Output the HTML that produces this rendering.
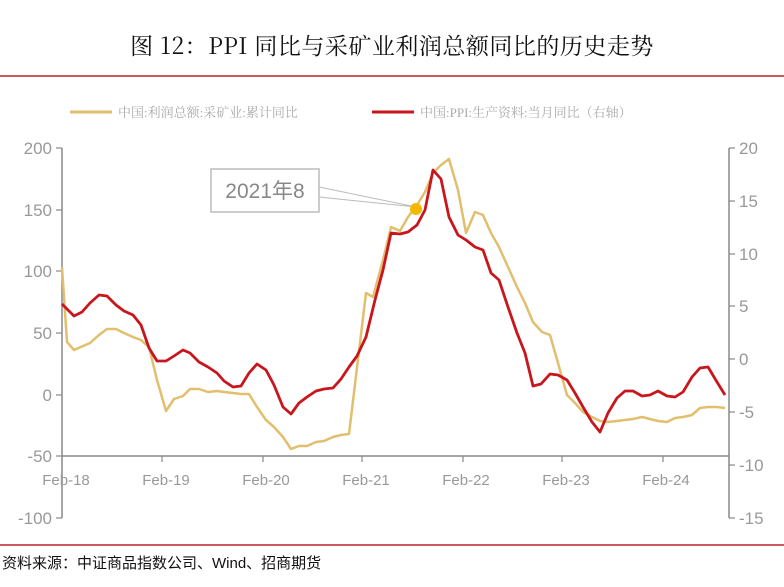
<!DOCTYPE html>
<html><head><meta charset="utf-8"><style>
body{margin:0;background:#fff;width:784px;height:582px;overflow:hidden;font-family:"Liberation Sans","Noto Sans CJK SC",sans-serif}
</style></head><body>
<svg width="784" height="582" xmlns="http://www.w3.org/2000/svg" font-family="Liberation Sans, Noto Sans CJK SC, sans-serif">
<text x="392" y="54" text-anchor="middle" font-size="23" fill="#111" letter-spacing="0.5" font-family="Noto Serif CJK SC, Liberation Serif, serif">图 12：PPI 同比与采矿业利润总额同比的历史走势</text>
<line x1="0" y1="76" x2="784" y2="76" stroke="#b8262a" stroke-width="1.5"/>
<line x1="0" y1="545" x2="784" y2="545" stroke="#b8262a" stroke-width="1.5"/>
<text x="2" y="568" font-size="15" fill="#111">资料来源：中证商品指数公司、Wind、招商期货</text>
<line x1="70" y1="112" x2="112" y2="112" stroke="#e2bf6e" stroke-width="3"/>
<text x="118" y="117" font-size="13" fill="#aaa" font-family="Liberation Serif, Noto Serif CJK SC, serif">中国:利润总额:采矿业:累计同比</text>
<line x1="372" y1="112" x2="414" y2="112" stroke="#c8161d" stroke-width="3"/>
<text x="420" y="117" font-size="13" fill="#aaa" font-family="Liberation Serif, Noto Serif CJK SC, serif">中国:PPI:生产资料:当月同比（右轴）</text>
<g stroke="#888" stroke-width="1.5" fill="none">
<line x1="62" y1="148" x2="62" y2="518"/>
<line x1="729" y1="148" x2="729" y2="518"/>
<line x1="62" y1="456" x2="729" y2="456"/>
</g>
<g stroke="#888" stroke-width="1.2">
<line x1="56" y1="148" x2="62" y2="148"/><line x1="56" y1="210" x2="62" y2="210"/><line x1="56" y1="271" x2="62" y2="271"/><line x1="56" y1="333" x2="62" y2="333"/><line x1="56" y1="395" x2="62" y2="395"/><line x1="56" y1="456" x2="62" y2="456"/><line x1="56" y1="518" x2="62" y2="518"/>
<line x1="729" y1="148" x2="735" y2="148"/><line x1="729" y1="201" x2="735" y2="201"/><line x1="729" y1="254" x2="735" y2="254"/><line x1="729" y1="306" x2="735" y2="306"/><line x1="729" y1="359" x2="735" y2="359"/><line x1="729" y1="412" x2="735" y2="412"/><line x1="729" y1="465" x2="735" y2="465"/><line x1="729" y1="518" x2="735" y2="518"/>
<line x1="162" y1="456" x2="162" y2="462"/><line x1="263" y1="456" x2="263" y2="462"/><line x1="362" y1="456" x2="362" y2="462"/><line x1="463" y1="456" x2="463" y2="462"/><line x1="562" y1="456" x2="562" y2="462"/><line x1="663" y1="456" x2="663" y2="462"/>
</g>
<g font-size="17" fill="#999" text-anchor="end">
<text x="52" y="154">200</text><text x="52" y="216">150</text><text x="52" y="277">100</text><text x="52" y="339">50</text><text x="52" y="401">0</text><text x="52" y="462">-50</text><text x="52" y="524">-100</text>
</g>
<g font-size="17" fill="#999">
<text x="739" y="154">20</text><text x="739" y="207">15</text><text x="739" y="260">10</text><text x="739" y="312">5</text><text x="739" y="365">0</text><text x="739" y="418">-5</text><text x="739" y="471">-10</text><text x="739" y="524">-15</text>
</g>
<g font-size="15" fill="#999" text-anchor="middle">
<text x="66" y="485">Feb-18</text><text x="166" y="485">Feb-19</text><text x="266" y="485">Feb-20</text><text x="366" y="485">Feb-21</text><text x="466" y="485">Feb-22</text><text x="566" y="485">Feb-23</text><text x="666" y="485">Feb-24</text>
</g>
<polyline fill="none" stroke="#e2bf6e" stroke-width="2.5" stroke-linejoin="round" points="62,267 67,342 74,350 90,343 99,335 107,329 116,329 124,333 133,337 141,340 149,347 157,380 166,411 174,399 183,396 190,389 199,389 208,392 217,391 224,392 233,393 241,394 249,394 257,407 266,420 274,427 283,437 291,449 299,446 307,446 316,442 324,441 333,437 341,435 349,434 366,293 373,297 383,260 391,227 400,231 408,217 417,205 425,192 433,173 441,165 449,159 458,190 466,233 475,212 483,215 491,233 499,247 508,267 517,287 525,303 533,322 542,332 550,335 558,363 567,395 575,403 583,412 592,417 600,421 608,422 617,421 625,420 633,419 642,417 650,419 658,421 667,422 675,418 683,417 692,415 700,408 708,407 717,407 725,408"/>
<polyline fill="none" stroke="#c8161d" stroke-width="2.8" stroke-linejoin="round" points="62,304 74,316 82,312 90,303 99,295 107,296 116,305 124,311 133,315 141,325 149,348 157,361 166,361 174,356 183,350 190,353 199,362 208,367 217,373 224,381 233,387 241,386 249,373 257,364 266,370 274,385 283,407 291,414 299,403 307,397 316,391 324,389 333,388 341,379 349,367 357,356 366,337 375,300 383,270 391,233 400,234 408,232 417,225 425,210 433,170 441,179 449,217 458,235 466,240 475,247 483,250 491,273 499,280 508,307 517,333 525,353 533,386 541,384 550,374 558,375 567,380 575,393 583,407 592,422 600,432 608,413 617,398 625,391 633,391 642,396 650,395 658,391 667,396 675,397 683,392 692,377 700,368 708,367 717,382 725,395"/>
<polygon points="319,187 416,207 319,197" fill="#fff" stroke="#bbb" stroke-width="1"/>
<rect x="211" y="169" width="108" height="43" fill="#fff" stroke="#bbb" stroke-width="1.5"/>
<text x="265" y="198" text-anchor="middle" font-size="21" fill="#888">2021年8</text>
<circle cx="416" cy="209" r="6" fill="#f5b800"/>
</svg>
</body></html>
